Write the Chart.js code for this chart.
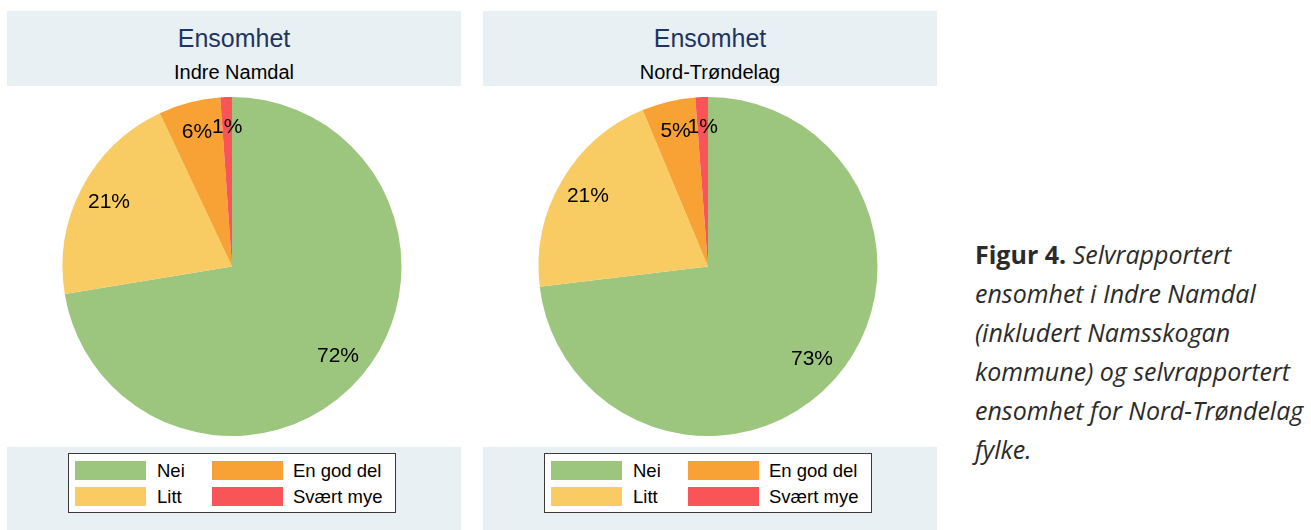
<!DOCTYPE html>
<html>
<head>
<meta charset="utf-8">
<script src="https://cdn.jsdelivr.net/npm/chart.js@4/dist/chart.umd.min.js"></script>
<style>
  body { margin: 0; background: #fff; }
  #page { position: relative; width: 1311px; height: 530px; overflow: hidden; font-family: "Liberation Sans", Arial, sans-serif; }
  .head { position: absolute; top: 11px; width: 454px; height: 75px; background: #e9f0f3; }
  .title { position: absolute; left: 0; right: 0; text-align: center; line-height: 1; }
  .t1 { top: 15px; font-size: 25px; color: #1f3461; }
  .t2 { top: 51px; font-size: 20px; color: #000; }
  .pie { position: absolute; top: 86px; width: 454px; height: 361px; }
  .foot { position: absolute; top: 447px; width: 454px; height: 83px; background: #e9f0f3; }
  .lbox { position: absolute; left: 61px; top: 6px; width: 326px; height: 58px; background: #fff; border: 1px solid #3a3a3a; }
  .sw { position: absolute; width: 71px; height: 19px; }
  .lt { position: absolute; font-size: 18.5px; line-height: 1; color: #000; white-space: nowrap; }
  #caption { position: absolute; left: 975px; top: 235px; font-family: "Open Sans", sans-serif; font-size: 25px; line-height: 39px; color: #2b2b2b; font-style: italic; white-space: nowrap; }
  #caption b { font-style: normal; font-weight: 700; }
</style>
</head>
<body>
<div id="page">
  <div class="head" style="left:7px"><div class="title t1">Ensomhet</div><div class="title t2">Indre Namdal</div></div>
  <div class="head" style="left:483px"><div class="title t1">Ensomhet</div><div class="title t2">Nord-Trøndelag</div></div>
  <div class="pie" style="left:7px"><canvas id="pieA"></canvas></div>
  <div class="pie" style="left:483px"><canvas id="pieB"></canvas></div>
  <div class="foot" style="left:7px"><div class="lbox" id="legA"></div></div>
  <div class="foot" style="left:483px"><div class="lbox" id="legB"></div></div>
  <div id="caption"><b>Figur 4.</b> Selvrapportert<br>ensomhet i Indre Namdal<br>(inkludert Namsskogan<br>kommune) og selvrapportert<br>ensomhet for Nord-Trøndelag<br>fylke.</div>
</div>
<script>
const categories = ['Nei', 'Litt', 'En god del', 'Svært mye']
const indreNamdal = [72.4, 20.6, 5.9, 1.1]
const nordTrondelag = [73.1, 20.6, 5.1, 1.2]
const colors = ['#9cc57d', '#f9cc63', '#f8a135', '#f95558']

// percentage labels inside slices
const sliceLabels = {
	id: 'sliceLabels',
	afterDatasetsDraw(chart) {
		const ctx = chart.ctx
		const meta = chart.getDatasetMeta(0)
		const values = chart.data.datasets[0].data
		ctx.save()
		ctx.font = '21px "Liberation Sans", Arial, sans-serif'
		ctx.fillStyle = '#000'
		ctx.textAlign = 'center'
		ctx.textBaseline = 'middle'
		meta.data.forEach((arc, i) => {
			const p = arc.getProps(['x', 'y', 'startAngle', 'endAngle', 'outerRadius'], true)
			const mid = (p.startAngle + p.endAngle) / 2
			const r = p.outerRadius * 0.82
			ctx.fillText(Math.round(values[i]) + '%', p.x + Math.cos(mid) * r, p.y + Math.sin(mid) * r)
		})
		ctx.restore()
	}
}

function makePie(id, values) {
	return new Chart(document.getElementById(id), {
		type: 'pie',
		data: {
			labels: categories,
			datasets: [{
				data: values,
				backgroundColor: colors,
				borderWidth: 0
			}]
		},
		options: {
			responsive: true,
			maintainAspectRatio: false,
			animation: false,
			layout: { padding: { left: 9, right: 13, top: 11, bottom: 11 } },
			plugins: {
				legend: { display: false },
				tooltip: { enabled: false }
			}
		},
		plugins: [sliceLabels]
	})
}

// legend: two columns, Nei/Litt left, En god del/Svært mye right
function makeLegend(id) {
	const box = document.getElementById(id)
	categories.forEach((c, i) => {
		const col = Math.floor(i / 2)
		const row = i % 2
		const sw = document.createElement('div')
		sw.className = 'sw'
		sw.style.background = colors[i]
		sw.style.left = (6 + col * 137) + 'px'
		sw.style.top = (7 + row * 26) + 'px'
		box.appendChild(sw)
		const t = document.createElement('div')
		t.className = 'lt'
		t.textContent = c
		t.style.left = (88 + col * 136) + 'px'
		t.style.top = (8 + row * 26) + 'px'
		box.appendChild(t)
	})
}

makePie('pieA', indreNamdal)
makePie('pieB', nordTrondelag)
makeLegend('legA')
makeLegend('legB')
</script>
</body>
</html>
